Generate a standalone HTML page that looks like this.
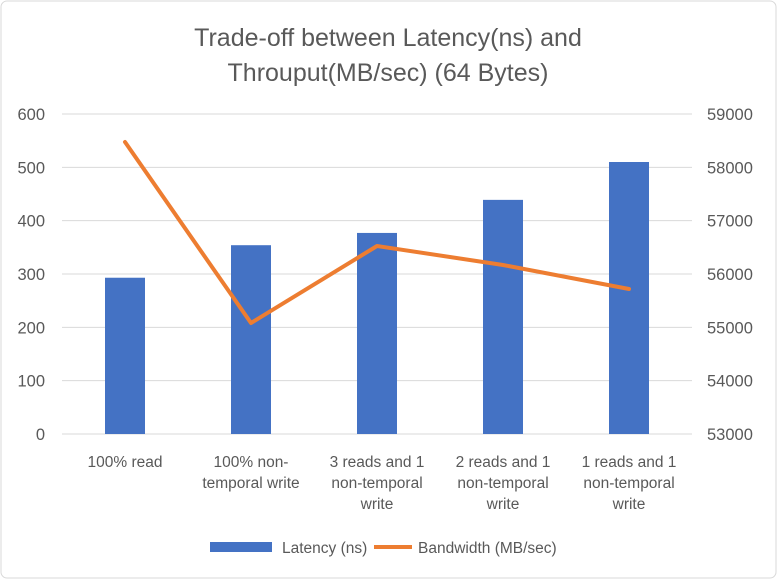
<!DOCTYPE html>
<html><head><meta charset="utf-8"><style>
body{margin:0;background:#fff;}
svg{display:block;font-family:"Liberation Sans",sans-serif;}
</style></head><body>
<svg id="chart" width="777" height="579">
<rect x="1" y="1" width="775" height="577" rx="6" fill="#fff" stroke="#d9d9d9"/>
<text x="388" y="46" text-anchor="middle" font-size="25" fill="#595959">Trade-off between Latency(ns) and</text>
<text x="388" y="81" text-anchor="middle" font-size="25" fill="#595959">Throuput(MB/sec) (64 Bytes)</text>
<g id="grid"></g><g id="bars"></g><g id="line"></g><g id="axes"></g>
<g>
<rect x="210" y="542" width="62" height="10" fill="#4472c4"/>
<text x="282" y="553" font-size="15.5" fill="#595959">Latency (ns)</text>
<line x1="374" y1="547" x2="412" y2="547" stroke="#ed7d31" stroke-width="4"/>
<text x="418" y="553" font-size="15.5" fill="#595959">Bandwidth (MB/sec)</text>
</g>
</svg>
<script>
const categories=[["100% read"],["100% non-","temporal write"],["3 reads and 1","non-temporal","write"],["2 reads and 1","non-temporal","write"],["1 reads and 1","non-temporal","write"]];
const latency=[293,354,377,439,510];
const bandwidth=[58475,55081,56525,56169,55719];
const leftTicks=[0,100,200,300,400,500,600];
const rightTicks=[53000,54000,55000,56000,57000,58000,59000];
const NS="http://www.w3.org/2000/svg";
const X0=62,X1=692,Y0=434,Y1=114;
const bw=(X1-X0)/categories.length;
const xc=i=>X0+bw*(i+0.5);
const yL=v=>Y0-(v-0)/(600-0)*(Y0-Y1);
const yR=v=>Y0-(v-53000)/(59000-53000)*(Y0-Y1);
function mk(t,a,p){const e=document.createElementNS(NS,t);for(const k in a)e.setAttribute(k,a[k]);p.appendChild(e);return e;}
const grid=document.getElementById('grid'),bars=document.getElementById('bars'),line=document.getElementById('line'),axes=document.getElementById('axes');
leftTicks.forEach((v,i)=>{
const g=mk('line',{x1:X0,x2:X1,y1:yL(v),y2:yL(v),stroke:'#d9d9d9','stroke-width':1},grid);


const t=mk('text',{x:45,y:yL(v)+6,'text-anchor':'end','font-size':16.5,fill:'#595959'},axes);t.textContent=v;


});
rightTicks.forEach(v=>{
const t=mk('text',{x:707,y:yR(v)+6,'font-size':16.5,fill:'#595959'},axes);t.textContent=v;


});
latency.forEach((v,i)=>{
const r=mk('rect',{x:xc(i)-20,y:yL(v),width:40,height:Y0-yL(v),fill:'#4472c4'},bars);


});
const pl=mk('polyline',{points:bandwidth.map((v,i)=>xc(i)+','+yR(v)).join(' '),fill:'none',stroke:'#ed7d31','stroke-width':4,'stroke-linejoin':'round','stroke-linecap':'round'},line);


categories.forEach((c,i)=>{
c.forEach((s,j)=>{
const t=mk('text',{x:xc(i),y:467+j*21,'text-anchor':'middle','font-size':15.5,fill:'#595959'},axes);t.textContent=s;


});
});
</script>
</body></html>
